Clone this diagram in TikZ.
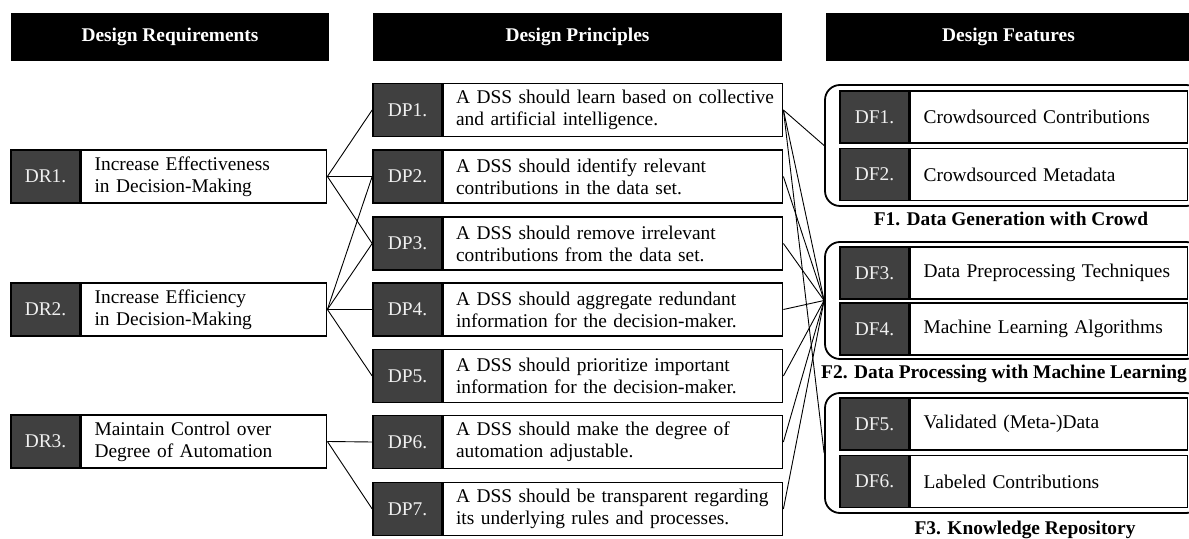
\documentclass[tikz,border=0pt]{standalone}
\usepackage{fontspec}
\setmainfont{Liberation Serif}
\usetikzlibrary{positioning}
\definecolor{tagdark}{HTML}{404040}

\begin{document}
\begin{tikzpicture}[x=0.5pt, y=-0.5pt,
		font=\fontsize{9.7}{11}\selectfont,
		header/.style={fill=black, text=white, font=\fontsize{9.7}{11}\selectfont\bfseries, minimum height=24pt, inner sep=0pt},
		tag/.style={draw=black, line width=0.8pt, fill=tagdark, text=white!94!black, minimum width=34.5pt, minimum height=26.5pt, inner sep=0pt},
		cell/.style={draw=black, line width=0.8pt, fill=white, minimum height=26.5pt, align=left, inner ysep=0pt},
		drcell/.style={cell, text width=109.5pt, inner xsep=6.5pt},
		dpcell/.style={cell, text width=157pt, inner xsep=6.25pt},
		dfcell/.style={cell, text width=125.5pt, inner xsep=6.5pt, minimum height=26pt},
		group/.style={draw=black, line width=0.9pt, rounded corners=7.5pt, inner sep=0pt, minimum width=188pt},
		grouplabel/.style={font=\fontsize{9.7}{11}\selectfont\bfseries, anchor=base, inner sep=0pt},
		link/.style={line width=0.45pt}]
		
		\useasboundingbox (0,0) rectangle (1189,539);
		\clip (0,0) rectangle (1189,539);
		
		% column headers
		\node [header, minimum width=159pt] (hdr) at (170,37) {Design Requirements};
		\node [header, minimum width=204.5pt] (hdp) at (577.5,37) {Design Principles};
		\node [header, minimum width=182.5pt] (hdf) at (1008.5,37) {Design Features};
		
		% feature groups
		\node [group, minimum height=60.5pt] (g1) at (1013,145.5) {};
		\node [group, minimum height=58.5pt] (g2) at (1013,300.5) {};
		\node [group, minimum height=60pt] (g3) at (1013,453) {};
		
		% requirements
		\node [tag] (dr1tag) at (45.5,176.5) {DR1.};
		\node [drcell, right=0pt of dr1tag] (dr1) {Increase Effectiveness\\in Decision-Making};
		\node [tag] (dr2tag) at (45.5,309.5) {DR2.};
		\node [drcell, right=0pt of dr2tag] (dr2) {Increase Efficiency\\in Decision-Making};
		\node [tag] (dr3tag) at (45.5,441.5) {DR3.};
		\node [drcell, right=0pt of dr3tag] (dr3) {Maintain Control over\\Degree of Automation};
		
		% principles
		\node [tag] (dp1tag) at (407.5,110) {DP1.};
		\node [dpcell, right=0pt of dp1tag] (dp1) {\mbox{A DSS should learn based on collective}\\and artificial intelligence.};
		\node [tag] (dp2tag) at (407.5,176.5) {DP2.};
		\node [dpcell, right=0pt of dp2tag] (dp2) {A DSS should identify relevant\\contributions in the data set.};
		\node [tag] (dp3tag) at (407.5,243.5) {DP3.};
		\node [dpcell, right=0pt of dp3tag] (dp3) {A DSS should remove irrelevant\\contributions from the data set.};
		\node [tag] (dp4tag) at (407.5,309.5) {DP4.};
		\node [dpcell, right=0pt of dp4tag] (dp4) {A DSS should aggregate redundant\\information for the decision-maker.};
		\node [tag] (dp5tag) at (407.5,376) {DP5.};
		\node [dpcell, right=0pt of dp5tag] (dp5) {A DSS should prioritize important\\information for the decision-maker.};
		\node [tag] (dp6tag) at (407.5,442) {DP6.};
		\node [dpcell, right=0pt of dp6tag] (dp6) {A DSS should make the degree of\\automation adjustable.};
		\node [tag] (dp7tag) at (407.5,509) {DP7.};
		\node [dpcell, right=0pt of dp7tag] (dp7) {\mbox{A DSS should be transparent regarding}\\its underlying rules and processes.};
		
		% features
		\node [tag, minimum height=26pt] (df1tag) at (874.5,117) {DF1.};
		\node [dfcell, right=0pt of df1tag] (df1) {Crowdsourced Contributions};
		\node [tag, minimum height=26pt] (df2tag) at (874.5,174.5) {DF2.};
		\node [dfcell, right=0pt of df2tag] (df2) {Crowdsourced Metadata};
		\node [tag, minimum height=26pt] (df3tag) at (874.5,273) {DF3.};
		\node [dfcell, right=0pt of df3tag] (df3) {Data Preprocessing Techniques};
		\node [tag, minimum height=26pt] (df4tag) at (874.5,329) {DF4.};
		\node [dfcell, right=0pt of df4tag] (df4) {Machine Learning Algorithms};
		\node [tag, minimum height=26pt] (df5tag) at (874.5,424) {DF5.};
		\node [dfcell, right=0pt of df5tag] (df5) {Validated (Meta-)Data};
		\node [tag, minimum height=26pt] (df6tag) at (874.5,481.5) {DF6.};
		\node [dfcell, right=0pt of df6tag] (df6) {Labeled Contributions};
		
		\node [grouplabel] (f1) at (1011,226) {F1. Data Generation with Crowd};
		\node [grouplabel] (f2) at (1004,379) {F2. Data Processing with Machine Learning};
		\node [grouplabel] (f3) at (1025,535) {F3. Knowledge Repository};
		
		% requirements -> principles
		\draw [link] (dr1.east) -- (dp1tag.west);
		\draw [link] (dr1.east) -- (dp2tag.west);
		\draw [link] (dr1.east) -- (dp3tag.west);
		\draw [link] (dr2.east) -- (dp2tag.west);
		\draw [link] (dr2.east) -- (dp3tag.west);
		\draw [link] (dr2.east) -- (dp4tag.west);
		\draw [link] (dr2.east) -- (dp5tag.west);
		\draw [link] (dr3.east) -- (dp6tag.west);
		\draw [link] (dr3.east) -- (dp7tag.west);
		
		% principles -> feature groups
		\draw [link] (dp1.east) -- (g1.west);
		\draw [link] (dp1.east) -- (g2.west);
		\draw [link] (dp1.east) -- (g3.west);
		\draw [link] (dp2.east) -- (g2.west);
		\draw [link] (dp3.east) -- (g2.west);
		\draw [link] (dp4.east) -- (g2.west);
		\draw [link] (dp5.east) -- (g2.west);
		\draw [link] (dp6.east) -- (g2.west);
		\draw [link] (dp7.east) -- (g2.west);
		
		\end{tikzpicture}
\end{document}
